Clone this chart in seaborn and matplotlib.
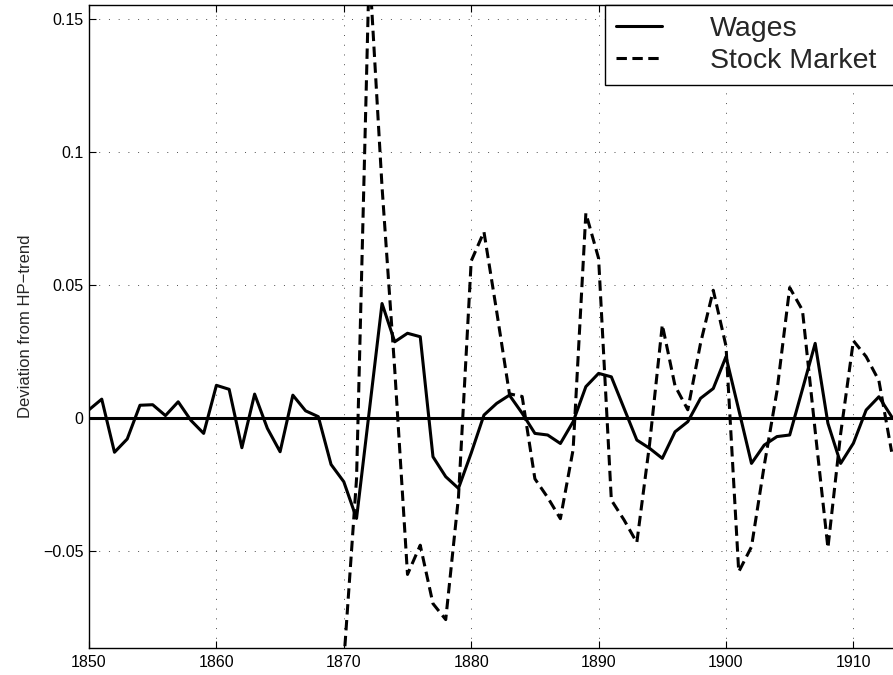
import numpy as np
import pandas as pd
import matplotlib
matplotlib.use('Agg')
import matplotlib.pyplot as plt
import seaborn as sns

# Data (deviation from HP trend)
years_wages = list(range(1850, 1914))
wages = [0.003, 0.007, -0.013, -0.008, 0.0047, 0.0049, 0.0008, 0.006, -0.001, -0.0059,
         0.0122, 0.0107, -0.0113, 0.0089, -0.004, -0.0128, 0.0085, 0.0026, 0.0004, -0.0176,
         -0.0241, -0.0379, 0.0025, 0.043, 0.0286, 0.0318, 0.0305, -0.0147, -0.0222, -0.0266,
         -0.0133, 0.001, 0.0054, 0.0085, 0.0017, -0.0059, -0.0065, -0.0097, -0.0015, 0.0117,
         0.0167, 0.0154, 0.0035, -0.0084, -0.0115, -0.0153, -0.0053, -0.0015, 0.0073, 0.011,
         0.023, 0.003, -0.0172, -0.0103, -0.0071, -0.0065, 0.0107, 0.028, -0.0021, -0.0172,
         -0.0096, 0.0029, 0.0079, 0.0004]

years_stock = list(range(1870, 1914))
stock = [-0.092, -0.023, 0.17, 0.087, 0.018, -0.059, -0.048, -0.070, -0.076, -0.030,
         0.059, 0.070, 0.040, 0.009, 0.008, -0.023, -0.030, -0.038, -0.012, 0.077,
         0.060, -0.031, -0.0385, -0.047, -0.010, 0.035, 0.012, 0.003, 0.028, 0.048,
         0.027, -0.058, -0.0486, -0.018, 0.010, 0.049, 0.0405, -0.005, -0.049, -0.006,
         0.029, 0.023, 0.014, -0.0128]

x_ticks = [1850, 1860, 1870, 1880, 1890, 1900, 1910]
y_ticks = [-0.05, 0, 0.05, 0.1, 0.15]
y_labels = ['\u22120.05', '0', '0.05', '0.1', '0.15']

df = pd.concat([
    pd.DataFrame({'Year': years_wages, 'Deviation': wages, 'Series': 'Wages'}),
    pd.DataFrame({'Year': years_stock, 'Deviation': stock, 'Series': 'Stock Market'}),
], ignore_index=True)

sns.set_style('ticks')
plt.rcParams['font.family'] = ['Liberation Sans', 'DejaVu Sans']

fig = plt.figure(figsize=(8.93, 6.75), dpi=100)
# axes run a bit past the right edge, like the cropped original
ax = fig.add_axes([89 / 893, 27 / 675, 65 * 12.74 / 893, 643 / 675])

sns.lineplot(data=df, x='Year', y='Deviation', style='Series',
             dashes={'Wages': '', 'Stock Market': (3.4, 1.8)},
             color='k', lw=2.2, errorbar=None, legend=False, ax=ax)
ax.axhline(0, color='k', lw=2.2)

ax.set_xlim(1850, 1915)
ax.set_ylim(-0.0867, 0.1554)
ax.set_xticks(x_ticks)
ax.set_yticks(y_ticks)
ax.set_yticklabels(y_labels)
ax.tick_params(direction='in', length=5, width=0.8, labelsize=11.5,
               top=True, right=True, colors='k')
ax.tick_params(axis='x', pad=5)
ax.tick_params(axis='y', pad=4)
ax.grid(True, color='0.3', lw=0.7, linestyle=(0, (1, 9)))
for s in ax.spines.values():
    s.set_color('k')
    s.set_linewidth(1)

ax.set_xlabel('')
ax.set_ylabel('Deviation from HP\u2212trend', fontsize=12, labelpad=7)

# legend box is cut by the right edge in the original
lines = ax.get_lines()
ax.legend([lines[0], lines[1]], ['Wages', 'Stock Market'],
          loc='upper left', bbox_to_anchor=(605 / 893, 0, 0.36, 670 / 675),
          bbox_transform=fig.transFigure, mode='expand', fontsize=20.5,
          frameon=True, fancybox=False, framealpha=1, edgecolor='k',
          borderaxespad=0, handlelength=1.6, handletextpad=1.7,
          borderpad=0.4, labelspacing=0.2)
ax.get_legend().get_frame().set_linewidth(1)

fig.savefig('out.png', dpi=100)
